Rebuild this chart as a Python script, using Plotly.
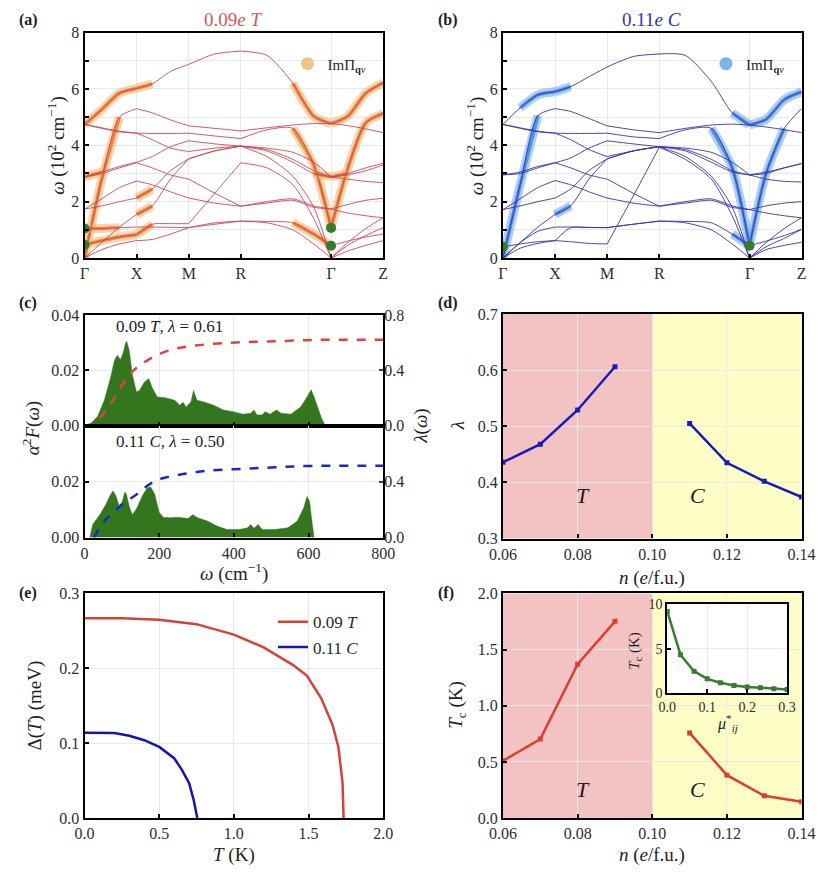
import plotly.graph_objects as go

W, H = 833, 880
FONT = "Liberation Serif, DejaVu Serif, Noto Serif, serif"

# ---------------- (a),(b) phonon bands ----------------
K_PATH = [0.0, 0.33, 0.67, 1.0, 1.3, 1.65, 2.0, 2.5, 3.0, 3.5, 4.0, 4.4, 4.732, 5.05, 5.4, 5.732]
HS_IDX = [0, 3, 6, 8, 12, 15]
HS_LABELS = ["Γ", "X", "M", "R", "Γ", "Z"]

BANDS_T = [
    [4.74, 5.27, 5.85, 6.02, 6.18, 6.62, 6.87, 7.24, 7.34, 7.19, 6.20, 5.03, 4.77, 5.03, 5.85, 6.22],
    [0.00, 2.80, 5.00, 5.30, 5.15, 4.90, 4.69, 4.60, 4.51, 4.62, 4.72, 4.77, 4.77, 4.70, 4.58, 4.45],
    [4.74, 4.62, 4.50, 4.43, 4.42, 4.42, 4.43, 4.33, 4.24, 4.55, 4.60, 3.30, 1.07, 3.17, 4.80, 5.13],
    [2.88, 3.05, 3.25, 3.40, 3.60, 3.95, 4.16, 4.05, 3.97, 3.80, 3.40, 3.00, 2.88, 3.00, 3.20, 3.36],
    [2.88, 3.00, 3.20, 3.38, 3.20, 2.95, 2.80, 2.30, 1.84, 2.00, 2.10, 1.85, 1.74, 1.90, 2.05, 2.12],
    [1.74, 1.85, 2.00, 2.13, 2.45, 3.10, 3.52, 3.80, 3.97, 3.85, 3.50, 3.10, 2.88, 2.80, 2.72, 2.68],
    [1.74, 2.10, 2.50, 2.73, 2.60, 2.35, 2.13, 1.95, 1.84, 1.95, 2.05, 1.80, 1.74, 1.60, 1.50, 1.43],
    [1.05, 1.05, 1.08, 1.10, 1.10, 1.09, 1.08, 1.20, 1.31, 1.30, 1.25, 0.85, 0.44, 0.60, 0.75, 0.85],
    [0.47, 0.62, 0.75, 0.83, 1.20, 1.22, 1.22, 2.30, 3.38, 3.20, 2.60, 1.40, 0.00, 0.45, 0.80, 1.08],
    [0.00, 0.30, 0.50, 0.62, 0.66, 0.85, 1.08, 1.25, 1.31, 1.25, 1.00, 0.50, 0.00, 0.25, 0.45, 0.62],
    [0.00, 0.55, 1.10, 1.55, 1.85, 2.80, 3.52, 3.80, 3.97, 3.60, 2.90, 1.80, 0.00, 0.55, 1.05, 1.43],
    [4.74, 4.60, 4.48, 4.43, 4.20, 3.90, 3.78, 3.90, 3.97, 3.90, 3.75, 3.40, 2.88, 2.95, 3.10, 3.30],
]
BANDS_C = [
    [4.74, 5.33, 5.79, 5.90, 6.08, 6.43, 6.78, 7.15, 7.24, 7.19, 6.26, 5.15, 4.72, 4.92, 5.62, 5.90],
    [0.00, 2.60, 5.05, 5.30, 5.20, 4.95, 4.69, 4.55, 4.45, 4.60, 4.72, 4.75, 4.72, 4.65, 4.55, 4.45],
    [4.74, 4.62, 4.50, 4.43, 4.42, 4.42, 4.43, 4.30, 4.24, 4.55, 4.60, 3.20, 0.44, 3.00, 4.60, 5.30],
    [2.95, 3.05, 3.25, 3.38, 3.55, 3.90, 4.16, 4.05, 3.95, 3.80, 3.40, 3.05, 2.95, 3.05, 3.20, 3.35],
    [2.95, 3.00, 3.20, 3.38, 3.20, 2.95, 2.80, 2.30, 1.84, 2.00, 2.10, 1.85, 1.72, 1.85, 1.95, 2.00],
    [1.72, 1.85, 2.00, 2.13, 2.45, 3.10, 3.52, 3.80, 3.95, 3.85, 3.50, 3.10, 2.95, 2.80, 2.72, 2.70],
    [1.72, 2.10, 2.50, 2.75, 2.60, 2.35, 2.13, 1.95, 1.84, 1.95, 2.05, 1.80, 1.72, 1.60, 1.50, 1.43],
    [0.40, 0.50, 0.58, 0.62, 1.08, 1.08, 1.08, 1.20, 1.31, 1.30, 1.25, 0.85, 0.44, 0.60, 0.80, 1.02],
    [0.00, 0.35, 0.52, 0.62, 0.58, 0.52, 0.50, 2.20, 3.93, 3.50, 2.80, 1.50, 0.00, 0.40, 0.70, 1.02],
    [0.00, 0.55, 0.95, 1.10, 1.10, 1.09, 1.08, 1.20, 1.31, 1.25, 1.00, 0.50, 0.00, 0.30, 0.45, 0.56],
    [0.00, 0.55, 1.10, 1.55, 1.85, 2.80, 3.52, 3.80, 3.95, 3.60, 2.90, 1.80, 0.00, 0.55, 1.05, 1.43],
    [4.74, 4.60, 4.48, 4.43, 4.20, 3.85, 3.60, 3.80, 3.95, 3.90, 3.75, 3.40, 2.95, 3.00, 3.20, 3.35],
]
# (band, first k index, last k index) where Im Pi_qv is large
IMPI_T = [(0, 0, 4), (0, 10, 15), (1, 0, 2), (2, 10, 15), (3, 0, 1), (3, 11, 13),
          (8, 0, 4), (7, 0, 2), (7, 10, 12), (5, 3, 4), (10, 3, 4)]
IMPI_C = [(0, 1, 4), (0, 11, 15), (1, 0, 2), (2, 10, 14), (10, 3, 4), (7, 11, 12)]
GREEN_T_IDX = [0, 0, 12, 12]
GREEN_T_W = [0.47, 1.05, 0.44, 1.07]
GREEN_C_IDX = [0, 12]
GREEN_C_W = [0.40, 0.44]

# ---------------- (c) Eliashberg functions ----------------
W_T = [0, 18, 35, 53, 70, 80, 88, 96, 104, 109, 113, 120, 128, 139, 147, 160, 172, 182, 195, 216,
       242, 255, 264, 272, 285, 292, 301, 320, 346, 372, 398, 424, 445, 454, 462, 475, 484, 497,
       514, 527, 553, 579, 596, 607, 615, 626, 635, 645]
A2F_T = [0, 0.001, 0.0033, 0.0092, 0.0175, 0.0235, 0.0255, 0.0238, 0.0265, 0.0295, 0.0305, 0.027,
         0.0185, 0.0122, 0.0127, 0.0157, 0.017, 0.0135, 0.0104, 0.0101, 0.0092, 0.0074, 0.0085,
         0.0068, 0.0086, 0.0128, 0.0092, 0.0086, 0.0074, 0.0057, 0.0051, 0.0042, 0.0045, 0.0057,
         0.0039, 0.0039, 0.0051, 0.0042, 0.0057, 0.0045, 0.0042, 0.0068, 0.0104, 0.013, 0.0104,
         0.0057, 0.0027, 0]
W_C = [14, 22, 40, 57, 68, 76, 84, 92, 100, 108, 112, 120, 128, 140, 155, 168, 178, 188, 200, 212,
       230, 251, 277, 290, 303, 329, 355, 381, 415, 437, 445, 454, 465, 476, 510, 545, 570, 587,
       596, 603, 609, 615]
A2F_C = [0, 0.0047, 0.008, 0.0118, 0.015, 0.0167, 0.015, 0.0115, 0.0125, 0.0163, 0.0155, 0.011,
         0.0082, 0.0105, 0.015, 0.0178, 0.018, 0.0155, 0.009, 0.0072, 0.0071, 0.0073, 0.0068,
         0.0082, 0.0071, 0.0059, 0.0041, 0.0029, 0.0029, 0.0035, 0.0047, 0.0033, 0.0047, 0.0029,
         0.0029, 0.0035, 0.0059, 0.0106, 0.0147, 0.0129, 0.0059, 0]
W_LAM_T = [0, 20, 44, 79, 104, 130, 165, 208, 251, 337, 423, 510, 596, 640, 800]
LAM_T = [0, 0.005, 0.066, 0.196, 0.31, 0.396, 0.467, 0.526, 0.561, 0.59, 0.603, 0.61, 0.618, 0.621, 0.621]
W_LAM_C = [25, 53, 100, 140, 182, 217, 268, 337, 423, 510, 596, 800]
LAM_C = [0, 0.117, 0.234, 0.31, 0.395, 0.43, 0.456, 0.48, 0.491, 0.503, 0.512, 0.514]

# ---------------- (d),(f) vs doping ----------------
N_T = [0.06, 0.07, 0.08, 0.09]
N_C = [0.11, 0.12, 0.13, 0.14]
LAMBDA_T = [0.436, 0.468, 0.529, 0.606]
LAMBDA_C = [0.505, 0.435, 0.402, 0.374]
TC_T = [0.51, 0.703, 1.37, 1.752]
TC_C = [0.758, 0.382, 0.198, 0.146]
PHASE_EDGES = [0.06, 0.10, 0.14]

# inset
MU = [0.0, 0.033, 0.067, 0.1, 0.133, 0.167, 0.2, 0.233, 0.267, 0.3]
TC_MU = [9.2, 4.35, 2.5, 1.64, 1.2, 0.9, 0.74, 0.63, 0.52, 0.45]

# ---------------- (e) gap ----------------
T_RED = [0, 0.25, 0.5, 0.75, 1.0, 1.2, 1.4, 1.49, 1.585, 1.66, 1.70, 1.715, 1.728, 1.735]
D_RED = [0.267, 0.267, 0.265, 0.259, 0.245, 0.228, 0.204, 0.19, 0.16, 0.125, 0.095, 0.069, 0.047, 0.0]
T_BLUE = [0, 0.2, 0.3, 0.4, 0.5, 0.6, 0.65, 0.7, 0.73, 0.755]
D_BLUE = [0.114, 0.1135, 0.11, 0.104, 0.095, 0.080, 0.065, 0.047, 0.025, 0.0]


def segmented(vals, i0=0, i1=None):
    if i1 is None:
        i1 = len(vals) - 1
    xs, ys = [], []
    for a, b in zip(HS_IDX[:-1], HS_IDX[1:]):
        lo, hi = max(a, i0), min(b, i1)
        if lo >= hi:
            continue
        xs += K_PATH[lo:hi + 1] + [None]
        ys += vals[lo:hi + 1] + [None]
    return xs, ys


def px(x):
    return x / W


def py(y):
    return 1 - y / H


fig = go.Figure()

band_sets = [
    (BANDS_T, IMPI_T, GREEN_T_IDX, GREEN_T_W, "x", "y", "rgb(205,70,85)",
     "rgba(244,185,125,0.6)", "rgba(236,125,40,0.85)", "rgb(242,196,140)", "legend"),
    (BANDS_C, IMPI_C, GREEN_C_IDX, GREEN_C_W, "x2", "y2", "rgb(55,50,165)",
     "rgba(120,175,240,0.6)", "rgba(60,130,228,0.8)", "rgb(125,178,236)", "legend2"),
]
for bands, impi, gidx, gw, xa, ya, lc, halo, core, legc, lg in band_sets:
    for bi, i0, i1 in impi:
        xs, ys = segmented(bands[bi], i0, i1)
        fig.add_trace(go.Scatter(x=xs, y=ys, mode="lines", xaxis=xa, yaxis=ya,
                                 line=dict(color=halo, width=9, shape="spline", smoothing=0.7),
                                 showlegend=False, hoverinfo="skip"))
        fig.add_trace(go.Scatter(x=xs, y=ys, mode="lines", xaxis=xa, yaxis=ya,
                                 line=dict(color=core, width=3.5, shape="spline", smoothing=0.7),
                                 showlegend=False, hoverinfo="skip"))
    for b in bands:
        xs, ys = segmented(b)
        fig.add_trace(go.Scatter(x=xs, y=ys, mode="lines", xaxis=xa, yaxis=ya,
                                 line=dict(color=lc, width=0.9, shape="spline", smoothing=0.7),
                                 showlegend=False, hoverinfo="skip"))
    fig.add_trace(go.Scatter(x=[K_PATH[i] for i in gidx], y=gw, mode="markers", xaxis=xa, yaxis=ya,
                             marker=dict(color="rgb(52,125,40)", size=10),
                             showlegend=False, hoverinfo="skip"))
    fig.add_trace(go.Scatter(x=[None], y=[None], mode="markers", xaxis=xa, yaxis=ya,
                             marker=dict(color=legc, size=13),
                             name="ImΠ<sub><b>q</b><i>ν</i></sub>", legend=lg, showlegend=True))

# (c)
GREEN = "rgb(52,118,30)"
fig.add_trace(go.Scatter(x=W_T, y=A2F_T, mode="lines", fill="tozeroy", fillcolor=GREEN,
                         line=dict(color=GREEN, width=0.5), xaxis="x3", yaxis="y3", showlegend=False))
fig.add_trace(go.Scatter(x=W_LAM_T, y=LAM_T, mode="lines", xaxis="x3", yaxis="y4",
                         line=dict(color="rgb(218,70,60)", width=2.5, dash="dash", shape="spline"),
                         showlegend=False))
fig.add_trace(go.Scatter(x=W_C, y=A2F_C, mode="lines", fill="tozeroy", fillcolor=GREEN,
                         line=dict(color=GREEN, width=0.5), xaxis="x5", yaxis="y5", showlegend=False))
fig.add_trace(go.Scatter(x=W_LAM_C, y=LAM_C, mode="lines", xaxis="x5", yaxis="y6",
                         line=dict(color="rgb(25,40,200)", width=2.5, dash="dash", shape="spline"),
                         showlegend=False))

# (d)
DBLUE = "rgb(25,25,195)"
for nn, vv in [(N_T, LAMBDA_T), (N_C, LAMBDA_C)]:
    fig.add_trace(go.Scatter(x=nn, y=vv, mode="lines+markers", xaxis="x7", yaxis="y7",
                             line=dict(color=DBLUE, width=2.5),
                             marker=dict(symbol="square", size=5, color=DBLUE), showlegend=False))
# (e)
fig.add_trace(go.Scatter(x=T_RED, y=D_RED, mode="lines", xaxis="x8", yaxis="y8",
                         line=dict(color="rgb(215,65,55)", width=2.5),
                         name="0.09 <i>T</i>", legend="legend3"))
fig.add_trace(go.Scatter(x=T_BLUE, y=D_BLUE, mode="lines", xaxis="x8", yaxis="y8",
                         line=dict(color="rgb(20,20,180)", width=2.5),
                         name="0.11 <i>C</i>", legend="legend3"))
# (f)
RED = "rgb(222,62,48)"
for nn, vv in [(N_T, TC_T), (N_C, TC_C)]:
    fig.add_trace(go.Scatter(x=nn, y=vv, mode="lines+markers", xaxis="x9", yaxis="y9",
                             line=dict(color=RED, width=2.5),
                             marker=dict(symbol="square", size=5, color=RED), showlegend=False))
# inset
IG = "rgb(55,125,45)"
fig.add_trace(go.Scatter(x=MU, y=TC_MU, mode="lines+markers", xaxis="x10", yaxis="y10",
                         line=dict(color=IG, width=2.5),
                         marker=dict(symbol="square", size=5, color=IG), showlegend=False))

TICKFONT = dict(family=FONT, size=16, color="rgb(45,45,45)")


def ax(dom, anchor, rng, **kw):
    d = dict(domain=dom, anchor=anchor, range=rng, showline=True, linecolor="black",
             linewidth=2.2, mirror=True, ticks="inside", ticklen=4, tickwidth=1.5,
             tickcolor="black", showgrid=True, gridcolor="rgb(233,233,233)", gridwidth=1,
             zeroline=False, tickfont=TICKFONT)
    d.update(kw)
    return d


def dx(a, b):
    return [px(a), px(b)]


def dy(a, b):
    return [py(b), py(a)]


hs_x = [K_PATH[i] for i in HS_IDX]
ytv = list(range(0, 9))
ytt = [str(v) if v % 2 == 0 else "" for v in ytv]

layout = dict(
    width=W, height=H, margin=dict(l=0, r=0, t=0, b=0),
    paper_bgcolor="white", plot_bgcolor="white",
    font=dict(family=FONT, size=16, color="rgb(40,40,40)"),
    xaxis=ax(dx(73, 382), "y", [0, K_PATH[-1]], tickvals=hs_x, ticktext=HS_LABELS),
    yaxis=ax(dy(25, 255), "x", [0, 8], tickvals=ytv, ticktext=ytt),
    xaxis2=ax(dx(506, 815), "y2", [0, K_PATH[-1]], tickvals=hs_x, ticktext=HS_LABELS),
    yaxis2=ax(dy(25, 255), "x2", [0, 8], tickvals=ytv, ticktext=ytt),
    xaxis3=ax(dx(73, 382), "y3", [0, 800], dtick=200, showticklabels=False),
    yaxis3=ax(dy(313, 426), "x3", [0, 0.04], tickvals=[0, 0.02, 0.04], tickformat=".2f"),
    yaxis4=dict(overlaying="y3", side="right", anchor="x3", range=[0, 0.8], tickvals=[0, 0.4, 0.8],
                tickformat=".1f", ticks="inside", ticklen=4, tickwidth=1.5, showgrid=False,
                zeroline=False, tickfont=TICKFONT, showline=False),
    xaxis5=ax(dx(73, 382), "y5", [0, 800], dtick=200),
    yaxis5=ax(dy(426, 540), "x5", [0, 0.04], tickvals=[0, 0.02], tickformat=".2f"),
    yaxis6=dict(overlaying="y5", side="right", anchor="x5", range=[0, 0.8], tickvals=[0, 0.4],
                tickformat=".1f", ticks="inside", ticklen=4, tickwidth=1.5, showgrid=False,
                zeroline=False, tickfont=TICKFONT, showline=False),
    xaxis7=ax(dx(506, 815), "y7", [0.06, 0.14], dtick=0.02, tickformat=".2f"),
    yaxis7=ax(dy(312, 541), "x7", [0.3, 0.7], dtick=0.1, tickformat=".1f"),
    xaxis8=ax(dx(73, 382), "y8", [0, 2], dtick=0.5, tickformat=".1f"),
    yaxis8=ax(dy(597, 826), "x8", [0, 0.3], dtick=0.1, tickformat=".1f"),
    xaxis9=ax(dx(506, 815), "y9", [0.06, 0.14], dtick=0.02, tickformat=".2f"),
    yaxis9=ax(dy(597, 826), "x9", [0, 2], dtick=0.5, tickformat=".1f"),
    xaxis10=ax(dx(676, 800), "y10", [0, 0.3], dtick=0.1, tickformat=".1f",
               tickfont=dict(family=FONT, size=14, color="rgb(45,45,45)")),
    yaxis10=ax(dy(608, 699), "x10", [0, 10], dtick=5,
               tickfont=dict(family=FONT, size=14, color="rgb(45,45,45)")),
    legend=dict(x=px(283), y=py(57), xanchor="left", yanchor="middle", bgcolor="rgba(0,0,0,0)",
                font=dict(family=FONT, size=15), itemwidth=30),
    legend2=dict(x=px(716), y=py(57), xanchor="left", yanchor="middle", bgcolor="rgba(0,0,0,0)",
                 font=dict(family=FONT, size=15), itemwidth=30),
    legend3=dict(x=px(268), y=py(608), xanchor="left", yanchor="top", bgcolor="rgba(0,0,0,0)",
                 font=dict(family=FONT, size=17), itemwidth=30, tracegroupgap=0),
)

shapes = []
PHASE_COLORS = ["rgb(243,195,195)", "rgb(253,253,198)"]
for xa, ya in [("x7", "y7"), ("x9", "y9")]:
    for i in range(2):
        shapes.append(dict(type="rect", xref=xa, yref=ya + " domain", x0=PHASE_EDGES[i],
                           x1=PHASE_EDGES[i + 1], y0=0, y1=1, fillcolor=PHASE_COLORS[i],
                           line=dict(width=0), layer="below"))
layout["shapes"] = shapes

ann = []


def note(x, y, text, size=19, angle=0, color="rgb(30,30,30)", xanchor="center"):
    ann.append(dict(x=px(x), y=py(y), xref="paper", yref="paper", text=text, showarrow=False,
                    textangle=angle, xanchor=xanchor, yanchor="middle",
                    font=dict(family=FONT, size=size, color=color)))


for lab, x, y in [("(a)", 3, 12), ("(b)", 437, 12), ("(c)", 3, 301), ("(d)", 437, 301),
                  ("(e)", 3, 597), ("(f)", 437, 597)]:
    note(x, y, "<b>%s</b>" % lab, size=16, xanchor="left")

note(227, 12, "0.09<i>e</i> <i>T</i>", size=19, color="rgb(214,86,86)")
note(660, 12, "0.11<i>e</i> <i>C</i>", size=19, color="rgb(50,50,180)")
note(44, 140, "<i>ω</i> (10<sup>2</sup> cm<sup>−1</sup>)", angle=-90)
note(477, 140, "<i>ω</i> (10<sup>2</sup> cm<sup>−1</sup>)", angle=-90)
note(18, 428, "<i>α</i><sup>2</sup><i>F</i>(<i>ω</i>)", angle=-90)
note(421, 426, "<i>λ</i>(<i>ω</i>)", angle=-90)
note(228, 576, "<i>ω</i> (cm<sup>−1</sup>)")
note(103, 325, "0.09 <i>T</i>, <i>λ</i> = 0.61", size=17, xanchor="left")
note(103, 442, "0.11 <i>C</i>, <i>λ</i> = 0.50", size=17, xanchor="left")
note(459, 426, "<i>λ</i>", angle=-90)
note(660, 581, "<i>n</i> (<i>e</i>/f.u.)")
note(589, 497, "<i>T</i>", size=22)
note(707, 497, "<i>C</i>", size=22)
note(22, 711, "Δ(<i>T</i>) (meV)", angle=-90)
note(228, 864, "<i>T</i> (K)")
note(459, 711, "<i>T</i><sub>c</sub> (K)", angle=-90)
note(660, 864, "<i>n</i> (<i>e</i>/f.u.)")
note(589, 797, "<i>T</i>", size=22)
note(707, 797, "<i>C</i>", size=22)
note(643, 655, "<i>T</i><sub>c</sub> (K)", size=15, angle=-90)
note(738, 729, "<i>μ</i><sup>*</sup><sub><i>ij</i></sub>", size=16)
layout["annotations"] = ann

fig.update_layout(**layout)
fig.write_html("out.html")
